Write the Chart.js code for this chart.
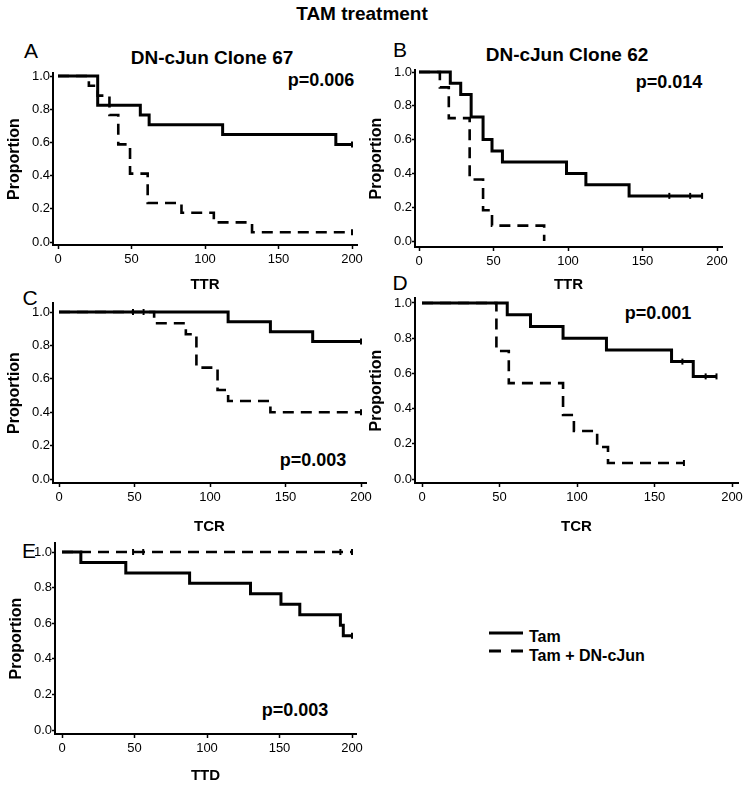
<!DOCTYPE html>
<html>
<head>
<meta charset="utf-8">
<script src="https://cdn.jsdelivr.net/npm/chart.js@4/dist/chart.umd.min.js"></script>
<style>
body { margin: 0; background: #fff; width: 751px; height: 788px; position: relative; overflow: hidden;
       font-family: "Liberation Sans", Arial, sans-serif; color: #000; }
canvas { position: absolute; }
.t { position: absolute; transform: translate(-50%, -50%); white-space: nowrap; }
.b { font-weight: bold; }
.lt { font-size: 21px; }
.pt { font-weight: bold; font-size: 18px; }
.ttl { font-weight: bold; font-size: 19px; }
</style>
</head>
<body>
<div class="t b" style="left:362px;top:14px;font-size:19px">TAM treatment</div>

<div class="t lt" style="left:31px;top:51px">A</div>
<div class="t lt" style="left:400px;top:50px">B</div>
<div class="t lt" style="left:30px;top:298px">C</div>
<div class="t lt" style="left:400px;top:283px">D</div>
<div class="t lt" style="left:29px;top:551px">E</div>

<div class="t ttl" style="left:212px;top:58px">DN-cJun Clone 67</div>
<div class="t ttl" style="left:567px;top:55px">DN-cJun Clone 62</div>

<div class="t pt" style="left:321px;top:80px">p=0.006</div>
<div class="t pt" style="left:669px;top:82px">p=0.014</div>
<div class="t pt" style="left:313px;top:460px">p=0.003</div>
<div class="t pt" style="left:658px;top:313px">p=0.001</div>
<div class="t pt" style="left:295px;top:710px">p=0.003</div>

<svg style="position:absolute;left:485px;top:625px" width="44" height="34">
  <line x1="4" y1="8" x2="38" y2="8" stroke="#000" stroke-width="3"/>
  <line x1="4" y1="26" x2="38" y2="26" stroke="#000" stroke-width="3" stroke-dasharray="12 10"/>
</svg>
<div class="b" style="position:absolute;left:529px;top:628px;font-size:16px">Tam</div>
<div class="b" style="position:absolute;left:529px;top:647px;font-size:16px">Tam + DN-cJun</div>

<script>
// --- data (time in days, proportion) ---

// A: TTR, clone 67
const tamA_t = [0, 27, 56, 62, 112, 189, 200];
const tamA_s = [1, 0.824, 0.765, 0.706, 0.647, 0.588, 0.588];
const tamA_ct = [200];
const tamA_cs = [0.588];
const dnA_t = [0, 21, 27, 35, 41, 49, 61, 84, 106, 132, 200];
const dnA_s = [1, 0.941, 0.882, 0.765, 0.588, 0.412, 0.235, 0.176, 0.118, 0.059, 0.059];
const dnA_ct = [200];
const dnA_cs = [0.059];

// B: TTR, clone 62
const tamB_t = [0, 21, 28, 35, 43, 49, 56, 99, 112, 141, 190];
const tamB_s = [1, 0.933, 0.867, 0.733, 0.6, 0.533, 0.467, 0.4, 0.333, 0.267, 0.267];
const tamB_ct = [168, 182, 190];
const tamB_cs = [0.267, 0.267, 0.267];
const dnB_t = [0, 14, 20, 34, 43, 49, 84];
const dnB_s = [1, 0.909, 0.727, 0.364, 0.182, 0.091, 0];
const dnB_ct = [];
const dnB_cs = [];

// C: TCR, clone 67
const tamC_t = [0, 112, 140, 168, 200];
const tamC_s = [1, 0.941, 0.882, 0.824, 0.824];
const tamC_ct = [49, 56, 200];
const tamC_cs = [1, 1, 0.824];
const dnC_t = [0, 63, 84, 91, 105, 112, 140, 200];
const dnC_s = [1, 0.933, 0.867, 0.667, 0.533, 0.467, 0.4, 0.4];
const dnC_ct = [200];
const dnC_cs = [0.4];

// D: TCR, clone 62
const tamD_t = [0, 55, 70, 91, 119, 161, 175, 190];
const tamD_s = [1, 0.933, 0.867, 0.8, 0.733, 0.667, 0.583, 0.583];
const tamD_ct = [168, 183, 190];
const tamD_cs = [0.667, 0.583, 0.583];
const dnD_t = [0, 48, 56, 91, 98, 113, 120, 169];
const dnD_s = [1, 0.727, 0.545, 0.364, 0.273, 0.182, 0.091, 0.091];
const dnD_ct = [169];
const dnD_cs = [0.091];

// E: TTD
const tamE_t = [0, 13, 44, 88, 130, 151, 164, 192, 194, 200];
const tamE_s = [1, 0.941, 0.882, 0.824, 0.765, 0.706, 0.647, 0.588, 0.529, 0.529];
const tamE_ct = [200];
const tamE_cs = [0.529];
const dnE_t = [0, 200];
const dnE_s = [1, 1];
const dnE_ct = [49, 56, 192, 200];
const dnE_cs = [1, 1, 1, 1];

const xTicks = [0, 50, 100, 150, 200];
const yTicks = [0, 0.2, 0.4, 0.6, 0.8, 1.0];

// pixel frame of each panel: axis lines and where 0/200 and 0.0/1.0 sit
const panels = [
  { xTitle: 'TTR', tam: [tamA_t, tamA_s, tamA_ct, tamA_cs], dn: [dnA_t, dnA_s, dnA_ct, dnA_cs],
    box: { L: 53, R: 357, T: 73, B: 245, x0: 58, x200: 352, y1: 76, y0: 242, titleOff: 40 } },
  { xTitle: 'TTR', tam: [tamB_t, tamB_s, tamB_ct, tamB_cs], dn: [dnB_t, dnB_s, dnB_ct, dnB_cs],
    box: { L: 415, R: 722, T: 70, B: 247, x0: 419, x200: 717, y1: 72, y0: 241, titleOff: 38 } },
  { xTitle: 'TCR', tam: [tamC_t, tamC_s, tamC_ct, tamC_cs], dn: [dnC_t, dnC_s, dnC_ct, dnC_cs],
    box: { L: 53, R: 366, T: 303, B: 483, x0: 59, x200: 361, y1: 312, y0: 479, titleOff: 44 } },
  { xTitle: 'TCR', tam: [tamD_t, tamD_s, tamD_ct, tamD_cs], dn: [dnD_t, dnD_s, dnD_ct, dnD_cs],
    box: { L: 415, R: 738, T: 298, B: 483, x0: 422, x200: 732, y1: 303, y0: 479, titleOff: 44 } },
  { xTitle: 'TTD', tam: [tamE_t, tamE_s, tamE_ct, tamE_cs], dn: [dnE_t, dnE_s, dnE_ct, dnE_cs],
    box: { L: 55, R: 356, T: 543, B: 734, x0: 62, x200: 352, y1: 552, y0: 730, titleOff: 42 } }
];

Chart.defaults.font.family = '"Liberation Sans", Arial, sans-serif';
Chart.defaults.color = '#000';

function toPoints(t, s) {
  return t.map((x, i) => ({ x: x, y: s[i] }));
}

function curve(t, s, dashed) {
  return {
    data: toPoints(t, s),
    showLine: true,
    stepped: 'before',
    borderColor: '#000',
    borderWidth: dashed ? 2.6 : 3,
    borderDash: dashed ? [11, 7] : [],
    pointRadius: 0,
    fill: false,
    clip: false
  };
}

function censorMarks(t, s) {
  return {
    data: toPoints(t, s),
    showLine: false,
    pointStyle: 'line',
    rotation: 90,
    pointRadius: 3,
    borderColor: '#000',
    borderWidth: 2,
    clip: false
  };
}

panels.forEach(p => {
  const b = p.box;
  const ppx = (b.x200 - b.x0) / 200;
  const ppy = b.y0 - b.y1;
  const xmin = (b.L - b.x0) / ppx, xmax = 200 + (b.R - b.x200) / ppx;
  const ymin = -(b.B - b.y0) / ppy, ymax = 1 + (b.y1 - b.T) / ppy;
  const Wy = 54, padT = 10, padR = 16, Hx = b.titleOff + 13;

  const cv = document.createElement('canvas');
  const w = b.R - b.L + Wy + padR, h = b.B - b.T + padT + Hx;
  cv.width = w; cv.height = h;
  cv.style.width = w + 'px'; cv.style.height = h + 'px';
  cv.style.left = (b.L - Wy) + 'px';
  cv.style.top = (b.T - padT) + 'px';
  document.body.appendChild(cv);

  new Chart(cv, {
    type: 'scatter',
    data: {
      datasets: [
        curve(p.tam[0], p.tam[1], false),
        curve(p.dn[0], p.dn[1], true),
        censorMarks(p.tam[2], p.tam[3]),
        censorMarks(p.dn[2], p.dn[3])
      ]
    },
    options: {
      responsive: false,
      animation: false,
      devicePixelRatio: 1,
      layout: { padding: { top: padT, right: padR, left: 0, bottom: 0 } },
      plugins: { legend: { display: false }, tooltip: { enabled: false } },
      scales: {
        x: {
          type: 'linear', min: xmin, max: xmax,
          afterBuildTicks: s => { s.ticks = xTicks.map(v => ({ value: v })); },
          afterFit: s => { s.height = Hx; },
          grid: { drawOnChartArea: false, drawTicks: true, tickLength: 4, tickColor: '#000', tickWidth: 1.5 },
          border: { display: true, color: '#000', width: 2 },
          ticks: { font: { size: 13 }, padding: 3, maxRotation: 0, callback: v => v },
          title: { display: true, text: p.xTitle, font: { size: 15, weight: 'bold' }, padding: { top: 0, bottom: 4 } }
        },
        y: {
          type: 'linear', min: ymin, max: ymax,
          afterBuildTicks: s => { s.ticks = yTicks.map(v => ({ value: v })); },
          afterFit: s => { s.width = Wy; },
          grid: { drawOnChartArea: false, drawTicks: true, tickLength: 3, tickColor: '#000', tickWidth: 1.5 },
          border: { display: true, color: '#000', width: 2 },
          ticks: { font: { size: 13 }, padding: 0, callback: v => v.toFixed(1) },
          title: { display: true, text: 'Proportion', font: { size: 16, weight: 'bold' }, padding: { top: 6, bottom: 0 } }
        }
      }
    }
  });
});
</script>
</body>
</html>
